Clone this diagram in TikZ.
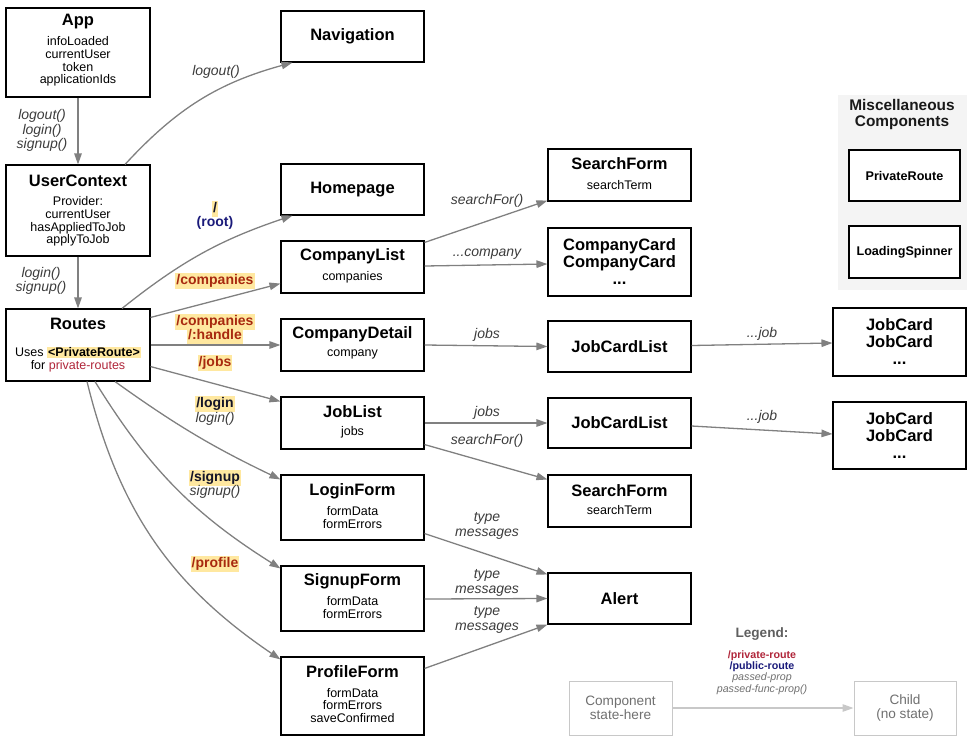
\documentclass[tikz,border=0pt]{standalone}
\usepackage{fontspec}
\setmainfont{Liberation Sans}
\usetikzlibrary{arrows.meta}

\definecolor{edgegray}{HTML}{808080}
\definecolor{hl}{HTML}{FFE8A0}
\definecolor{routered}{HTML}{A8290F}
\definecolor{privred}{HTML}{B0263A}
\definecolor{navyroute}{HTML}{1A1A7A}
\definecolor{pubdark}{HTML}{141428}
\definecolor{labgray}{HTML}{3C3C3C}
\definecolor{miscbg}{HTML}{F4F4F4}
\definecolor{leggray}{HTML}{C8C8C8}
\definecolor{legtext}{HTML}{707070}

\newcommand\setfs[2]{\fontsize{#1}{#2}\selectfont}

\tikzset{
  box/.style={draw=black, line width=1.1pt, fill=white, inner sep=0pt},
  ttl/.style={font=\setfs{16.5}{19}\bfseries, inner sep=0pt},
  sub/.style={font=\setfs{12.5}{12.7}, align=center, inner sep=0pt},
  cards/.style={font=\setfs{16.5}{17}\bfseries, align=center, inner sep=0pt},
  miscbox/.style={box, minimum width=111pt, minimum height=51pt, font=\setfs{12.6}{14}\bfseries},
  edge/.style={draw=edgegray, line width=1.3pt, -{Triangle[length=11pt,width=7.5pt]}},
  elab/.style={font=\setfs{14}{14.5}\itshape, text=labgray, align=center, inner sep=0pt},
  rlab/.style={font=\setfs{14}{14.5}\bfseries, text=routered, fill=hl, inner sep=1pt,
               text height=10.5pt, text depth=3pt},
  plab/.style={rlab, text=pubdark},
  legbox/.style={draw=leggray, line width=1pt, fill=white, inner sep=0pt,
                 minimum width=103pt, minimum height=54pt,
                 font=\setfs{13.6}{13.5}, text=legtext, align=center},
}

\begin{document}
\begin{tikzpicture}[x=1pt,y=1pt]
\useasboundingbox (0,0) rectangle (967,-737);

% panel of miscellaneous components
\fill[miscbg] (838,-95) rectangle (967,-290);
\node[font=\setfs{15.4}{16}\bfseries, align=center, inner sep=0pt, text=black!90] (misct) at (902,-115) {Miscellaneous\\Components};
\node[miscbox] (pr) at (904.5,-175.5) {PrivateRoute};
\node[miscbox, minimum height=52pt] (ls) at (904.5,-252) {LoadingSpinner};

% left column
\node[box, minimum width=144pt, minimum height=89pt] (app) at (78,-52.5) {};
\node[ttl] (appT) at (78,-22) {App};
\node[sub] (appS) at (78,-61.5) {infoLoaded\\currentUser\\token\\applicationIds};

\node[box, minimum width=144pt, minimum height=91pt] (uc) at (78,-210.5) {};
\node[ttl] (ucT) at (78,-181) {UserContext};
\node[sub] (ucS) at (78,-221.5) {Provider:\\currentUser\\hasAppliedToJob\\applyToJob};

\node[box, minimum width=144pt, minimum height=72pt] (routes) at (78,-345) {};
\node[ttl] (routesT) at (78,-324) {Routes};
\node[sub] (routesS) at (78,-359.5) {\setlength{\fboxsep}{1pt}Uses \colorbox{hl}{\bfseries <PrivateRoute>}\\for {\color{privred}private-routes}};

% middle column
\node[box, ttl, minimum width=143pt, minimum height=51pt] (nav) at (352.5,-36.5) {Navigation};
\node[box, ttl, minimum width=143pt, minimum height=51pt] (home) at (352.5,-189.5) {Homepage};

\node[box, minimum width=143pt, minimum height=52pt] (cl) at (352.5,-267) {};
\node[ttl] (clT) at (352.5,-256) {CompanyList};
\node[sub] (clS) at (352.5,-277) {companies};

\node[box, minimum width=143pt, minimum height=52pt] (cd) at (352.5,-345) {};
\node[ttl] (cdT) at (352.5,-334) {CompanyDetail};
\node[sub] (cdS) at (352.5,-354) {company};

\node[box, minimum width=143pt, minimum height=52pt] (jl) at (352.5,-423) {};
\node[ttl] (jlT) at (352.5,-412) {JobList};
\node[sub] (jlS) at (352.5,-432) {jobs};

\node[box, minimum width=143pt, minimum height=65pt] (lf) at (352.5,-507.5) {};
\node[ttl] (lfT) at (352.5,-491) {LoginForm};
\node[sub] (lfS) at (352.5,-517.5) {formData\\formErrors};

\node[box, minimum width=143pt, minimum height=65pt] (sf) at (352.5,-598.5) {};
\node[ttl] (sfT) at (352.5,-581) {SignupForm};
\node[sub] (sfS) at (352.5,-607.5) {formData\\formErrors};

\node[box, minimum width=143pt, minimum height=78pt] (pf) at (352.5,-696) {};
\node[ttl] (pfT) at (352.5,-672) {ProfileForm};
\node[sub] (pfS) at (352.5,-705.5) {formData\\formErrors\\saveConfirmed};

% right column
\node[box, minimum width=143pt, minimum height=52pt] (sfa) at (619.5,-175) {};
\node[ttl] (sfaT) at (619.5,-164) {SearchForm};
\node[sub] (sfaS) at (619.5,-185) {searchTerm};

\node[box, cards, minimum width=143pt, minimum height=68pt] (cc) at (619.5,-262) {CompanyCard\\CompanyCard\\...};

\node[box, ttl, minimum width=143pt, minimum height=51pt] (jcla) at (619.5,-346.5) {JobCardList};
\node[box, ttl, minimum width=143pt, minimum height=50pt] (jclb) at (619.5,-423) {JobCardList};

\node[box, minimum width=143pt, minimum height=52pt] (sfb) at (619.5,-501) {};
\node[ttl] (sfbT) at (619.5,-491) {SearchForm};
\node[sub] (sfbS) at (619.5,-510.5) {searchTerm};

\node[box, ttl, minimum width=143pt, minimum height=51pt] (alert) at (619.5,-598.5) {Alert};

\node[box, cards, minimum width=133pt, minimum height=68pt] (jca) at (899.5,-342) {JobCard\\JobCard\\...};
\node[box, cards, minimum width=133pt, minimum height=67pt] (jcb) at (899.5,-435.5) {JobCard\\JobCard\\...};

% connectors
\draw[edge] (app) -- (uc);
\draw[edge] (uc) -- (routes);
\draw[edge] ([xshift=47pt]uc.north) to[bend left=16] ([xshift=12pt]nav.south west);
\draw[edge] ([xshift=44pt]routes.north) to[bend left=10] ([xshift=12pt]home.south west);
\draw[edge] ([yshift=-9pt]routes.north east) -- ([yshift=10pt]cl.south west);
\draw[edge] (routes.east) -- (cd.west);
\draw[edge] ([yshift=15pt]routes.south east) -- ([yshift=-5pt]jl.north west);
\draw[edge] ([xshift=37pt]routes.south) to[bend right=5] ([yshift=-5pt]lf.north west);
\draw[edge] ([xshift=17pt]routes.south) to[bend right=13] ([yshift=-3pt]sf.north west);
\draw[edge] ([xshift=9pt]routes.south) to[bend right=21] ([yshift=-3pt]pf.north west);

\draw[edge] ([yshift=-2pt]cl.north east) -- ([yshift=1pt]sfa.south west);
\draw[edge] ([yshift=1pt]cl.east) -- ([yshift=-2pt]cc.west);
\draw[edge] (cd.east) -- (jcla.west);
\draw[edge] (jl.east) -- (jclb.west);
\draw[edge] ([yshift=5pt]jl.south east) -- ([yshift=-5pt]sfb.north west);
\draw[edge] ([yshift=1pt]jcla.east) -- ([yshift=-1pt]jca.west);
\draw[edge] ([yshift=-3pt]jclb.east) -- ([yshift=1.5pt]jcb.west);
\draw[edge] ([yshift=7pt]lf.south east) -- ([yshift=-2pt]alert.north west);
\draw[edge] ([yshift=-0.5pt]sf.east) -- (alert.west);
\draw[edge] ([yshift=-12pt]pf.north east) -- ([yshift=0pt]alert.south west);

% connector labels
\node[elab] (l1) at (42,-130.5) {logout()\\login()\\signup()};
\node[elab] (l2) at (41,-281) {login()\\signup()};
\node[elab] (l3) at (216,-72) {logout()};
\node[plab] (lroot) at (215,-209) {/};
\node[font=\setfs{14}{14.5}\bfseries, text=navyroute, inner sep=0pt] (lroot2) at (215,-223) {(root)};
\node[rlab] (lcomp) at (215,-281) {/companies};
\node[rlab] (lch1) at (215,-322) {/companies};
\node[rlab] (lch2) at (215,-336) {/:handle};
\node[rlab] (ljobs) at (215,-363) {/jobs};
\node[plab] (llogin) at (215,-404) {/login};
\node[elab] (llogin2) at (215,-419) {login()};
\node[plab] (lsignup) at (215,-478) {/signup};
\node[elab] (lsignup2) at (215,-492) {signup()};
\node[rlab] (lprofile) at (215,-564) {/profile};

\node[elab] (l4) at (487,-201) {searchFor()};
\node[elab] (l5) at (487,-254) {...company};
\node[elab] (l6) at (487,-335) {jobs};
\node[elab] (l7) at (487,-413) {jobs};
\node[elab] (l8) at (487,-441) {searchFor()};
\node[elab] (l9) at (762,-334) {...job};
\node[elab] (l10) at (762,-417) {...job};
\node[elab] (l11) at (487,-526) {type\\messages};
\node[elab] (l12) at (487,-583) {type\\messages};
\node[elab] (l13) at (487,-620) {type\\messages};

% legend
\node[font=\setfs{13.6}{14}\bfseries, text=legtext!85!black, inner sep=0pt] (legt) at (762,-634) {Legend:};
\node[font=\setfs{10.7}{11.3}, align=center, inner sep=0pt] (legs) at (762,-672.5)
  {{\bfseries\color{privred}/private-route}\\{\bfseries\color{navyroute}/public-route}\\
   {\itshape\color{legtext}passed-prop}\\{\itshape\color{legtext}passed-func-prop()}};
\node[legbox] (comp) at (620.5,-708) {Component\\state-here};
\node[legbox, minimum width=102pt] (child) at (905,-708) {Child\\(no state)};
\draw[edge, draw=leggray] (comp) -- (child);

\end{tikzpicture}
\end{document}
